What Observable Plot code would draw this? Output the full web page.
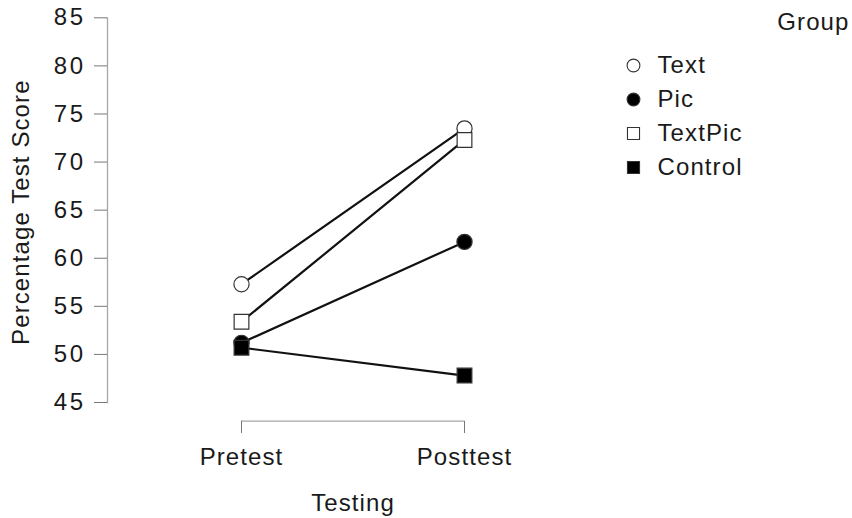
<!DOCTYPE html>
<html>
<head>
<meta charset="utf-8">
<script src="https://cdn.jsdelivr.net/npm/d3@7"></script>
<script src="https://cdn.jsdelivr.net/npm/@observablehq/plot@0.6"></script>
<style>
  html, body { margin: 0; padding: 0; background: white; }
  #wrap { position: relative; width: 852px; height: 518px; }
  #wrap svg { position: absolute; top: 0; }
  #wrap svg text { letter-spacing: 1.1px; }
  #wrap svg [aria-label="y-axis tick label"] text { letter-spacing: 2.5px; }
</style>
</head>
<body>
<div id="wrap"></div>
<script>
// Mean percentage test score per group, before and after the intervention
const phases = ["Pretest", "Posttest"];
const groups = ["Text", "Pic", "TextPic", "Control"];
const pretest = [57.3, 51.2, 53.4, 50.7];
const posttest = [73.5, 61.7, 72.3, 47.8];
const shapes = ["circle", "circle", "square", "square"];
const fills = ["white", "black", "white", "black"];
const yTicks = [45, 50, 55, 60, 65, 70, 75, 80, 85];

const rows = groups.flatMap((g, i) => [
  {group: g, phase: phases[0], score: pretest[i], shape: shapes[i], fill: fills[i]},
  {group: g, phase: phases[1], score: posttest[i], shape: shapes[i], fill: fills[i]}
]);
const legendRows = groups.map((g, i) => ({group: g, shape: shapes[i], fill: fills[i]}));

const font = "'Liberation Sans', Arial, Helvetica, sans-serif";
const axisGrey = "#a6a6a6";
const tickGrey = "#777";

const chart = Plot.plot({
  width: 852,
  height: 518,
  marginTop: 17.3,
  marginBottom: 116,
  marginLeft: 107,
  marginRight: 254,
  style: {fontFamily: font, fontSize: "24px", color: "#1a1a1a", background: "transparent"},
  x: {type: "point", domain: phases, padding: 0.6},
  y: {domain: [45, 85]},
  marks: [
    Plot.frame({anchor: "left", stroke: axisGrey, strokeWidth: 1.3}),
    Plot.axisY({ticks: yTicks, tickSize: 13, tickPadding: 9, tickFormat: d => d, stroke: tickGrey, label: null}),
    Plot.text(["Percentage Test Score"], {frameAnchor: "left", rotate: -90, dx: -86, dy: 2, lineAnchor: "middle", textAnchor: "middle"}),
    Plot.ruleY([45], {x1: () => phases[0], x2: () => phases[1], dy: 18.7, stroke: axisGrey, strokeWidth: 1.3}),
    Plot.axisX({tickSize: 12.3, tickPadding: 14.7, dy: 18.7, stroke: tickGrey, label: null}),
    Plot.text(["Testing"], {frameAnchor: "bottom", dy: 101, lineAnchor: "middle"}),
    Plot.line(rows, {x: "phase", y: "score", z: "group", stroke: "#111", strokeWidth: 2.2}),
    Plot.dot(rows.filter(d => d.shape === "circle"), {x: "phase", y: "score", symbol: "shape", fill: "fill", stroke: "#333", strokeWidth: 1.2, r: 7.6}),
    Plot.dot(rows.filter(d => d.shape === "square"), {x: "phase", y: "score", symbol: "shape", fill: "fill", stroke: "#333", strokeWidth: 1.2, r: 8.3})
  ]
});

// Legend: one row per group, symbol then name, titled "Group"
const legend = Plot.plot({
  width: 232,
  height: 190,
  margin: 0,
  style: {fontFamily: font, fontSize: "24px", color: "#1a1a1a", background: "transparent"},
  x: {type: "linear", domain: [0, 1], range: [13, 37], axis: null},
  y: {type: "point", domain: groups, range: [65, 167], padding: 0, axis: null},
  marks: [
    Plot.text(["Group"], {frameAnchor: "top-right", dx: -3, dy: 22, lineAnchor: "middle", textAnchor: "end"}),
    Plot.dot(legendRows.filter(d => d.shape === "circle"), {x: () => 0, y: "group", symbol: "shape", fill: "fill", stroke: "#333", strokeWidth: 1.1, r: 6.4}),
    Plot.dot(legendRows.filter(d => d.shape === "square"), {x: () => 0, y: "group", symbol: "shape", fill: "fill", stroke: "#333", strokeWidth: 1.1, r: 6.8}),
    Plot.text(legendRows, {x: () => 1, y: "group", text: "group", textAnchor: "start", lineAnchor: "middle"})
  ]
});
legend.style.left = "620px";
chart.style.left = "0px";

const wrap = document.getElementById("wrap");
wrap.append(chart, legend);
</script>
</body>
</html>
